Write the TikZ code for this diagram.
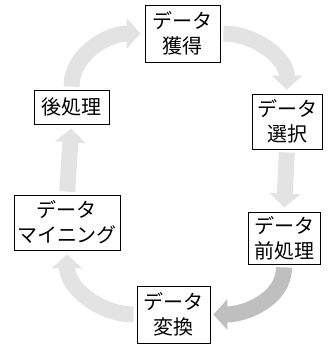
\documentclass[tikz,border=0pt]{standalone}
\usepackage{fontspec}
\newfontfamily\jp{Noto Sans CJK JP}
\usetikzlibrary{arrows.meta}
\begin{document}
\begin{tikzpicture}[x=1pt,y=-1pt,
  box/.style={draw=black, line width=0.8pt, fill=white, align=center, inner sep=0pt,
    font=\jp\fontsize{20}{25}\selectfont},
  band/.style={line width=16pt, draw=gray!22, -{Triangle[width=30pt,length=14pt]}},
  denseband/.style={band, draw=gray!50}]
\useasboundingbox (0,0) rectangle (328,346);
\node[box, minimum width=75pt, minimum height=57pt] (a) at (182.5,33.5) {データ\\獲得};
\node[box, minimum width=70pt, minimum height=55pt] (b) at (287,121.5) {データ\\選択};
\node[box, minimum width=72pt, minimum height=52pt] (c) at (284,238) {データ\\前処理};
\node[box, minimum width=73pt, minimum height=57pt] (d) at (173.5,314.5) {データ\\変換};
\node[box, minimum width=106pt, minimum height=55pt] (e) at (67,222.5) {データ\\マイニング};
\node[box, minimum width=75pt, minimum height=34pt] (f) at (71.5,107) {後処理};
\draw[band, shorten <=3pt, shorten >=4pt] (a.east) to[out=0,in=90] (b.north);
\draw[band, shorten <=3pt, shorten >=4pt] (b.south) -- (c.north);
\draw[denseband, shorten <=3pt, shorten >=3pt] (c.south) to[out=-90,in=0] (d.east);
\draw[band, shorten <=3pt, shorten >=4pt] (d.west) to[out=180,in=-90] (e.south);
\draw[band, shorten <=3pt, shorten >=4pt] (e.north) -- (f.south);
\draw[band, shorten <=3pt, shorten >=4pt] (f.north) to[out=90,in=180] (a.west);
\end{tikzpicture}
\end{document}
